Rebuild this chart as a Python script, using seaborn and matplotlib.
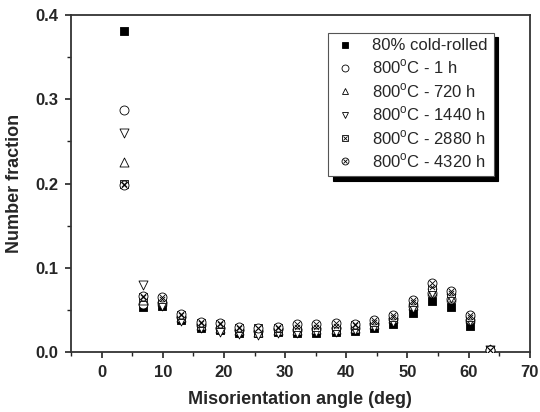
import numpy as np
import pandas as pd
import matplotlib
matplotlib.use("Agg")
import matplotlib.pyplot as plt
from matplotlib.lines import Line2D
from matplotlib.ticker import MultipleLocator
import seaborn as sns

# bin centres (deg)
angle = [3.6, 6.75, 9.9, 13.05, 16.2, 19.35, 22.5, 25.65, 28.8, 31.95,
         35.1, 38.25, 41.4, 44.55, 47.7, 50.85, 54.0, 57.15, 60.3, 63.45]

cold_rolled = [0.381, 0.053, 0.055, 0.038, 0.029, 0.026, 0.022, 0.022, 0.024, 0.023,
               0.023, 0.024, 0.025, 0.028, 0.033, 0.046, 0.060, 0.054, 0.031, 0.001]
h1 = [0.287, 0.057, 0.058, 0.041, 0.032, 0.029, 0.026, 0.025, 0.027, 0.026,
      0.027, 0.028, 0.029, 0.033, 0.039, 0.055, 0.070, 0.063, 0.038, 0.002]
h720 = [0.225, 0.062, 0.060, 0.042, 0.032, 0.028, 0.026, 0.024, 0.026, 0.026,
        0.027, 0.027, 0.029, 0.033, 0.040, 0.056, 0.072, 0.065, 0.040, 0.003]
h1440 = [0.260, 0.079, 0.055, 0.037, 0.028, 0.024, 0.021, 0.020, 0.023, 0.022,
         0.024, 0.024, 0.026, 0.030, 0.036, 0.052, 0.070, 0.064, 0.037, 0.002]
h2880 = [0.200, 0.065, 0.063, 0.044, 0.035, 0.033, 0.029, 0.028, 0.029, 0.030,
         0.030, 0.031, 0.032, 0.036, 0.042, 0.059, 0.077, 0.070, 0.042, 0.002]
h4320 = [0.198, 0.066, 0.065, 0.045, 0.036, 0.035, 0.030, 0.029, 0.030, 0.033,
         0.033, 0.034, 0.033, 0.038, 0.044, 0.062, 0.082, 0.073, 0.044, 0.002]

labels = ["80% cold-rolled", "800$^{\\mathrm{o}}$C - 1 h", "800$^{\\mathrm{o}}$C - 720 h",
          "800$^{\\mathrm{o}}$C - 1440 h", "800$^{\\mathrm{o}}$C - 2880 h",
          "800$^{\\mathrm{o}}$C - 4320 h"]
series = [cold_rolled, h1, h720, h1440, h2880, h4320]
# base marker, filled?, extra cross overlay?
styles = [("s", True, False), ("o", False, False), ("^", False, False),
          ("v", False, False), ("s", False, True), ("o", False, True)]

sns.set_style("ticks")
plt.rcParams["font.family"] = ["Liberation Sans", "DejaVu Sans"]
plt.rcParams["mathtext.fontset"] = "custom"
plt.rcParams["mathtext.rm"] = "Liberation Sans"
plt.rcParams["axes.edgecolor"] = "#333333"
plt.rcParams["axes.linewidth"] = 1.3

fig = plt.figure(figsize=(5.4, 4.12), dpi=100)
ax = fig.add_axes([0.1315, 0.1456, 0.8495, 0.818])

df = pd.DataFrame({"angle": angle})
handles = []
for lab, vals, (m, filled, cross) in zip(labels, series, styles):
    df["y"] = vals
    fc = "black" if filled else "white"
    sz = 32 if m == "s" else 42
    sns.scatterplot(data=df, x="angle", y="y", marker=m, s=sz, facecolor=fc,
                    edgecolor="black", linewidth=0.6, ax=ax, zorder=3)
    h = Line2D([], [], ls="none", marker=m, markersize=5, markerfacecolor=fc,
               markeredgecolor="black", markeredgewidth=0.6)
    if cross:
        sns.scatterplot(data=df, x="angle", y="y", marker="x", s=sz * 0.45,
                        color="black", linewidth=0.6, ax=ax, zorder=4)
        hx = Line2D([], [], ls="none", marker="x", markersize=3.4, color="black",
                    markeredgewidth=0.6)
        h = (h, hx)
    handles.append(h)

ax.set_xlim(-5, 70)
ax.set_ylim(0, 0.4)
ax.xaxis.set_major_locator(MultipleLocator(10))
ax.xaxis.set_minor_locator(MultipleLocator(5))
ax.yaxis.set_major_locator(MultipleLocator(0.1))
ax.yaxis.set_minor_locator(MultipleLocator(0.05))
ax.tick_params(which="major", direction="out", length=4, width=1.2, color="#222222",
               labelsize=12, pad=5)
ax.tick_params(which="minor", direction="out", length=3, width=1.0, color="#222222")
for t in ax.get_xticklabels() + ax.get_yticklabels():
    t.set_fontweight("bold")
ax.set_xlabel("Misorientation angle (deg)", fontsize=13, fontweight="bold", labelpad=8)
ax.set_ylabel("Number fraction", fontsize=13, fontweight="bold", labelpad=9)

leg = ax.legend(handles, labels, loc="upper right", bbox_to_anchor=(0.921, 0.948),
                fontsize=12, frameon=True, fancybox=False, edgecolor="#555555",
                shadow={"color": "black", "alpha": 1, "ox": 3.5, "oy": -3.5},
                handlelength=1.3, handletextpad=1.0, labelspacing=0.28,
                borderpad=0.35, borderaxespad=0, framealpha=1)
leg.get_frame().set_linewidth(0.8)

fig.savefig("out.png", dpi=100)
